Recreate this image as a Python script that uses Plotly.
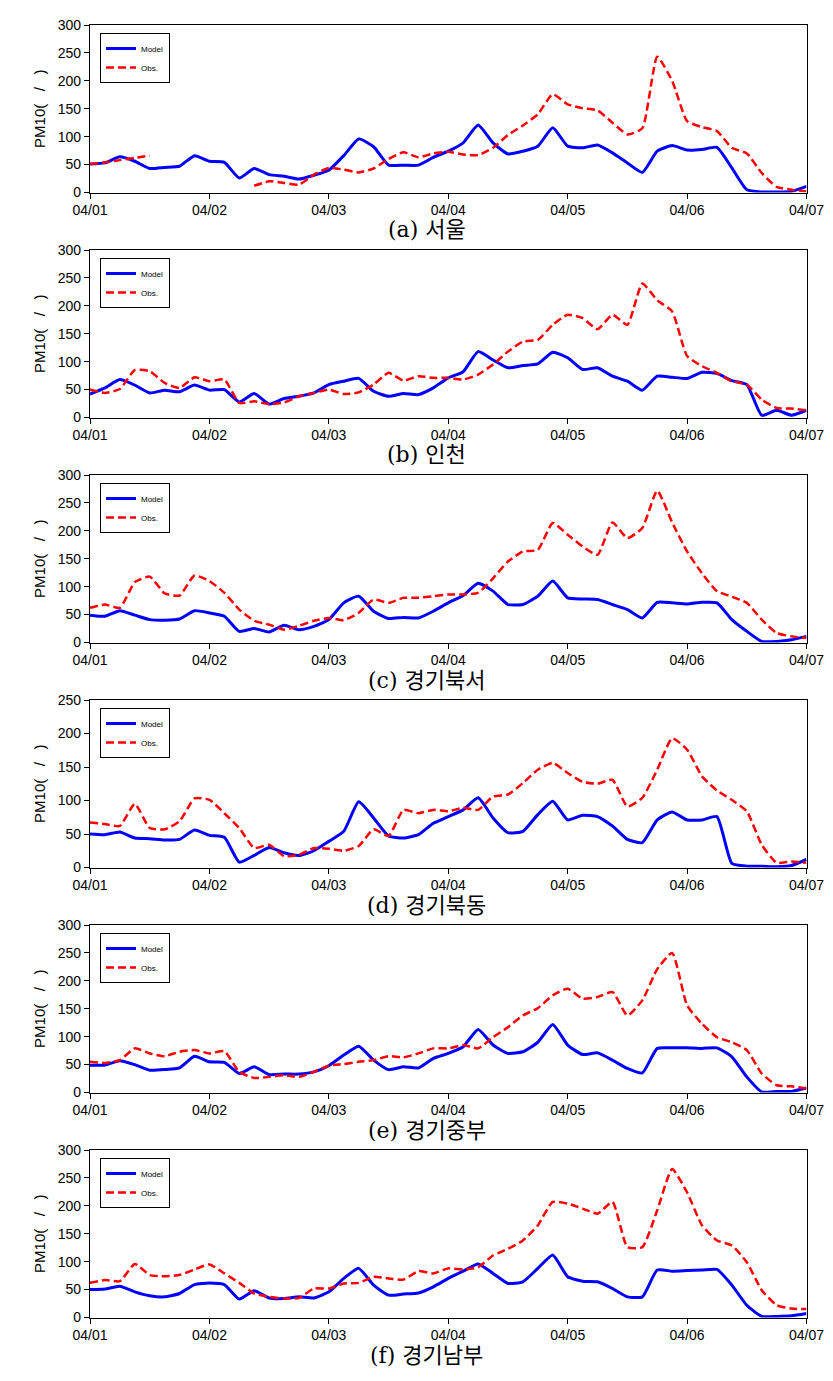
import plotly.graph_objects as go

# ---------------- data (3-hourly samples, 04/01 00h .. 04/07 00h) ----------------
hours = list(range(0, 145, 3))
tick_hours = [0, 24, 48, 72, 96, 120, 144]
tick_labels = ["04/01", "04/02", "04/03", "04/04", "04/05", "04/06", "04/07"]

captions = ["(a) 서울", "(b) 인천", "(c) 경기북서", "(d) 경기북동", "(e) 경기중부", "(f) 경기남부"]
y_max = [300, 300, 300, 250, 300, 300]

a_model = [51,53,64,56,43,45,47,66,56,54,26,43,32,29,24,31,40,66,96,82,49,49,49,63,74,89,121,89,69,74,83,116,83,80,85,71,53,36,74,84,76,77,81,44,5,1,1,2,11]
a_obs = [51,54,58,62,66,None,None,None,None,None,None,12,20,17,14,32,44,41,36,43,60,72,63,70,73,68,67,80,103,120,140,176,158,151,147,125,104,115,243,200,128,117,110,80,70,35,10,5,2]

b_model = [42,53,68,58,44,49,46,58,49,50,28,43,24,34,38,44,59,65,70,47,38,43,41,53,71,82,118,103,89,93,96,117,107,86,89,74,65,49,74,72,70,81,79,66,59,4,13,4,13]
b_obs = [50,44,51,85,83,62,53,72,65,68,26,29,24,27,38,44,50,42,45,59,80,66,74,71,71,68,77,95,118,136,139,166,184,178,158,184,166,240,210,190,110,92,80,65,59,32,17,16,13]

c_model = [49,47,57,49,41,40,42,57,53,47,20,25,19,31,23,29,41,71,83,56,43,45,44,56,71,84,106,92,68,68,83,110,80,78,77,68,59,44,72,71,69,72,71,41,20,2,2,5,11]
c_obs = [62,68,62,108,118,88,84,120,110,89,59,39,32,23,30,39,44,40,53,77,71,80,80,83,86,86,89,115,145,163,166,214,193,172,157,215,187,205,272,215,163,124,92,82,71,41,17,11,8]

d_model = [50,49,53,44,43,41,42,56,48,45,8,18,30,22,18,25,39,54,98,74,47,44,49,66,76,86,104,74,52,54,79,99,71,78,76,62,42,37,71,83,71,71,76,6,2,2,1,3,12]
d_obs = [67,65,62,95,59,57,69,103,101,81,59,29,34,17,19,29,28,25,32,57,47,86,81,86,84,89,86,106,109,126,146,156,141,128,125,131,91,104,146,193,176,136,115,101,84,34,7,9,7]

e_model = [49,49,57,50,40,41,44,65,55,54,34,46,32,33,33,37,48,67,83,58,41,46,44,61,70,82,113,85,70,73,90,122,85,68,71,58,43,35,79,80,80,79,80,64,28,1,2,2,8]
e_obs = [55,53,58,79,70,65,73,76,70,74,37,26,28,31,28,37,48,51,55,58,65,63,70,79,79,85,79,99,117,138,151,174,186,168,171,180,138,165,221,250,156,123,99,90,76,34,13,11,7]

f_model = [50,51,56,46,39,37,43,59,62,59,33,48,35,34,37,35,46,70,88,58,40,42,44,55,70,83,96,79,61,64,88,112,73,65,64,52,37,37,85,83,84,85,86,58,22,2,2,3,7]
f_obs = [62,67,65,96,76,74,76,86,95,79,62,43,37,34,35,52,52,61,62,73,70,68,83,79,88,86,90,111,123,138,165,207,204,195,186,207,126,126,192,266,224,165,138,129,99,49,22,16,15]

models = [a_model, b_model, c_model, d_model, e_model, f_model]
obss = [a_obs, b_obs, c_obs, d_obs, e_obs, f_obs]

# ---------------- layout ----------------
W, H = 833, 1381
x_left, x_right = 90, 806.5
panel_top = [25, 250, 475, 700, 925, 1150]
panel_h = 167.5
cap_y = [230, 455, 680, 905, 1130, 1355]

fig = go.Figure()
layout = dict(
    width=W, height=H, margin=dict(l=0, r=0, t=0, b=0, pad=0, autoexpand=False),
    paper_bgcolor="white", plot_bgcolor="white",
    font=dict(family="Liberation Sans, Arial, sans-serif", color="black"),
    annotations=[], showlegend=True,
)

for i in range(6):
    n = "" if i == 0 else str(i + 1)
    top = panel_top[i]
    bot = top + panel_h
    leg = "legend" + n
    fig.add_trace(go.Scatter(
        x=hours, y=models[i], name="Model", mode="lines",
        line=dict(color="#0000FF", width=3, shape="spline", smoothing=0.5),
        xaxis="x" + n, yaxis="y" + n, legend=leg, showlegend=True))
    fig.add_trace(go.Scatter(
        x=hours, y=obss[i], name="Obs.", mode="lines", connectgaps=False,
        line=dict(color="#FF0000", width=2.5, dash="8px,4px", shape="spline", smoothing=0.5),
        xaxis="x" + n, yaxis="y" + n, legend=leg, showlegend=True))

    layout["xaxis" + n] = dict(
        domain=[x_left / W, x_right / W], range=[0, 144], anchor="y" + n,
        tickvals=tick_hours, ticktext=tick_labels, ticks="outside", ticklen=5,
        tickcolor="black", showline=True, linecolor="black", linewidth=1.2,
        mirror=True, showgrid=False, zeroline=False, automargin=False,
        tickfont=dict(size=14, family="Liberation Sans, Arial, sans-serif"))
    layout["yaxis" + n] = dict(
        domain=[1 - bot / H, 1 - top / H], range=[0, y_max[i]], anchor="x" + n,
        dtick=50, ticks="outside", ticklen=5, tickcolor="black",
        showline=True, linecolor="black", linewidth=1.2, mirror=True,
        showgrid=False, zeroline=False, automargin=False,
        tickfont=dict(size=14, family="Liberation Sans, Arial, sans-serif"),
        title=dict(text="PM10(   /   )", standoff=8,
                   font=dict(size=15, family="Liberation Sans, Arial, sans-serif")))
    layout[leg] = dict(
        x=100 / W, y=1 - (top + 8) / H, xanchor="left", yanchor="top",
        bgcolor="white", bordercolor="black", borderwidth=1,
        font=dict(size=8, family="Liberation Sans, Arial, sans-serif"),
        tracegroupgap=0, itemwidth=30)
    layout["annotations"].append(dict(
        text=captions[i], x=427 / W, y=1 - cap_y[i] / H, xref="paper", yref="paper",
        showarrow=False, xanchor="center", yanchor="middle",
        font=dict(size=22, family="DejaVu Serif, Noto Sans CJK KR, serif")))

fig.update_layout(**layout)
fig.write_html("out.html", config={"displayModeBar": False},
               post_script="document.body.style.margin='0';")
